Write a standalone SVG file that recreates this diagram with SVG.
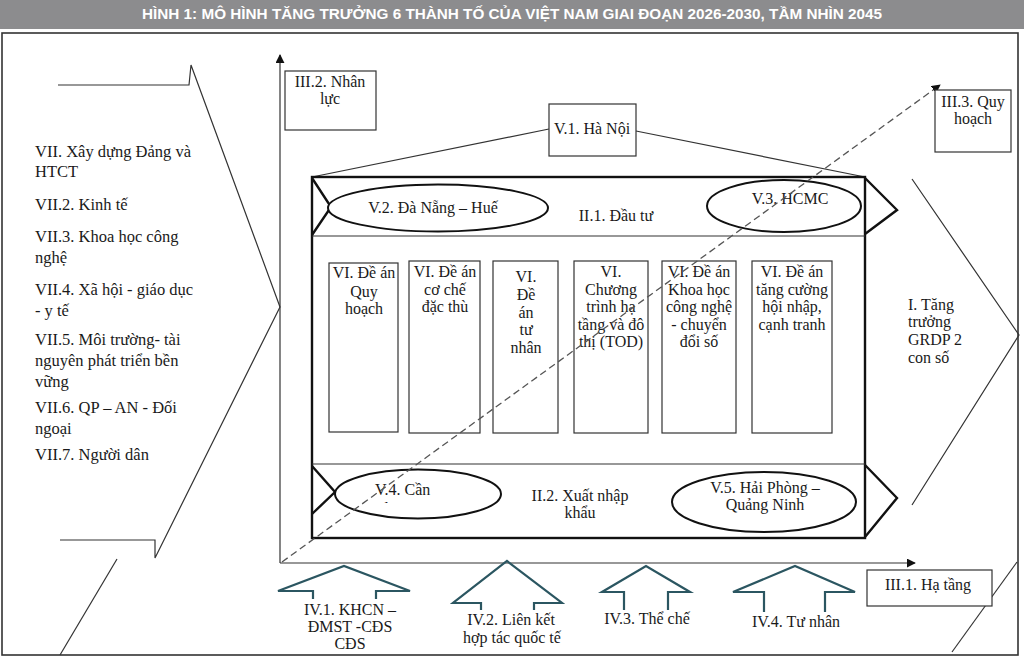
<svg xmlns="http://www.w3.org/2000/svg" width="1024" height="658" viewBox="0 0 1024 658">
<style>
.t{font-family:'Liberation Serif','DejaVu Serif',serif;font-size:16px;fill:#1a1a1a}
.tl{font-family:'Liberation Serif','DejaVu Serif',serif;font-size:16.5px;fill:#1a1a1a}
.c{text-anchor:middle}
.thin{fill:none;stroke:#333;stroke-width:1.2}
.box{fill:#fff;stroke:#333;stroke-width:1.2}
.thick{fill:none;stroke:#111;stroke-width:2.4}
.ell{fill:#fff;stroke:#111;stroke-width:2}
.arr{fill:none;stroke:#2b5661;stroke-width:2.2;stroke-linejoin:miter}
.head{font-family:'Liberation Sans Narrow','Liberation Sans',Arial,sans-serif;font-weight:bold;font-size:14px;fill:#fff}
</style>
<defs>
<marker id="ah" viewBox="0 0 10 10" refX="9" refY="5" markerWidth="9" markerHeight="9" markerUnits="userSpaceOnUse" orient="auto">
<path d="M0,0 L10,5 L0,10 z" fill="#111"/>
</marker>
<clipPath id="cl4"><rect x="330" y="470" width="170" height="33"/></clipPath>
</defs>
<rect width="1024" height="658" fill="#fff"/>
<g id="header">
<rect x="0" y="0" width="1024" height="29" fill="#8c8c8e"/>
<text class="head c" x="512" y="19" textLength="740" lengthAdjust="spacingAndGlyphs">HÌNH 1: MÔ HÌNH TĂNG TRƯỞNG 6 THÀNH TỐ CỦA VIỆT NAM GIAI ĐOẠN 2026-2030, TẦM NHÌN 2045</text>
</g>
<rect x="2" y="33" width="1016" height="622" fill="none" stroke="#333" stroke-width="1.6"/>

<g id="chevron-left">
<polyline class="thin" points="58,85 189,85 191,65 280,307 155,558 155,540 60,540"/>
<line class="thin" x1="117" y1="559" x2="60" y2="655"/>
</g>
<g id="chevron-right">
<polyline class="thin" points="912,179 1019,335 912,505"/>
<line class="thin" x1="1017" y1="562" x2="952" y2="652"/>
</g>

<g id="connectors">
<line x1="280" y1="563" x2="280" y2="55" stroke="#333" stroke-width="1.2" marker-end="url(#ah)"/>
<line x1="280" y1="563" x2="915" y2="563" stroke="#333" stroke-width="1.2" marker-end="url(#ah)"/>
<line class="thin" x1="549" y1="129" x2="312" y2="177"/>
<line class="thin" x1="636" y1="131" x2="865" y2="177"/>
</g>

<g id="main-box">
<rect class="thick" x="312" y="177" width="553" height="361" fill="#fff"/>
<line class="thin" x1="312" y1="236" x2="865" y2="236"/>
<line class="thin" x1="312" y1="464" x2="865" y2="464"/>
<polyline class="thick" points="312,178 331,207 312,235" stroke-width="2"/>
<polyline class="thick" points="865,178 897,210 865,234" stroke-width="2"/>
<polyline class="thick" points="312,466 335,492 312,514" stroke-width="2"/>
<polyline class="thick" points="865,465 897,498 865,537" stroke-width="2"/>
<text class="t c" x="616" y="221">II.1. Đầu tư</text>
<text class="t c" x="580" y="501">II.2. Xuất nhập</text>
<text class="t c" x="580" y="518">khẩu</text>
</g>

<g id="V2"><ellipse class="ell" cx="438" cy="208" rx="110" ry="23.5"/><text class="t c" x="433" y="213">V.2. Đà Nẵng – Huế</text></g>
<g id="V3"><ellipse class="ell" cx="784" cy="206" rx="77" ry="26"/><text class="t c" x="790" y="204">V.3. HCMC</text></g>
<g id="V4"><ellipse class="ell" cx="418" cy="494" rx="83" ry="24.5"/><text class="t" x="375" y="495">V.4. Cần</text><text class="t" x="375" y="514" clip-path="url(#cl4)">Thơ</text></g>
<g id="V5"><ellipse class="ell" cx="764" cy="502" rx="92" ry="30"/><text class="t c" x="765" y="493">V.5.  Hải Phòng –</text><text class="t c" x="765" y="510">Quảng Ninh</text></g>

<g id="VI-1"><rect class="box" x="329" y="263" width="69" height="169"/><text class="t c" x="364" y="278">VI. Đề án</text><text class="t c" x="364" y="297">Quy</text><text class="t c" x="364" y="314">hoạch</text></g>
<g id="VI-2"><rect class="box" x="409" y="261" width="71" height="172"/><text class="t c" x="445" y="277">VI. Đề án</text><text class="t c" x="445" y="295">cơ chế</text><text class="t c" x="445" y="312">đặc thù</text></g>
<g id="VI-3"><rect class="box" x="493" y="261" width="65" height="172"/><text class="t c" x="526" y="282">VI.</text><text class="t c" x="526" y="300">Đề</text><text class="t c" x="526" y="318">án</text><text class="t c" x="526" y="335">tư</text><text class="t c" x="526" y="353">nhân</text></g>
<g id="VI-4"><rect class="box" x="574" y="261" width="74" height="172"/><text class="t c" x="611" y="277">VI.</text><text class="t c" x="611" y="295">Chương</text><text class="t c" x="611" y="312">trình hạ</text><text class="t c" x="611" y="330">tầng và đô</text><text class="t c" x="611" y="347">thị (TOD)</text></g>
<g id="VI-5"><rect class="box" x="662" y="261" width="74" height="172"/><text class="t c" x="699" y="277">VI. Đề án</text><text class="t c" x="699" y="295">Khoa học</text><text class="t c" x="699" y="312">công nghệ</text><text class="t c" x="699" y="330">- chuyển</text><text class="t c" x="699" y="347">đổi số</text></g>
<g id="VI-6"><rect class="box" x="752" y="261" width="80" height="172"/><text class="t c" x="792" y="277">VI. Đề án</text><text class="t c" x="792" y="295">tăng cường</text><text class="t c" x="792" y="312">hội nhập,</text><text class="t c" x="792" y="330">cạnh tranh</text></g>

<g id="dashed">
<line x1="282" y1="562" x2="940" y2="85" stroke="#555" stroke-width="1.3" stroke-dasharray="7,4" marker-end="url(#ah)"/>
</g>

<g id="III2"><rect class="box" x="285" y="71" width="91" height="59"/><text class="t c" x="330" y="87">III.2. Nhân</text><text class="t c" x="330" y="104">lực</text></g>
<g id="V1"><rect class="box" x="549" y="104" width="87" height="52"/><text class="t c" x="592" y="134">V.1. Hà Nội</text></g>
<g id="III3"><rect class="box" x="935" y="90" width="76" height="62"/><text class="t c" x="973" y="107">III.3. Quy</text><text class="t c" x="973" y="124">hoạch</text></g>
<g id="III1"><rect class="box" x="867" y="570" width="125" height="36"/><text class="t c" x="928" y="590">III.1. Hạ tầng</text></g>

<g id="I">
<text class="t" x="908" y="310">I. Tăng</text><text class="t" x="908" y="327">trưởng</text><text class="t" x="908" y="345">GRDP 2</text><text class="t" x="908" y="363">con số</text>
</g>

<g id="VII">
<text class="tl" x="35" y="157">VII. Xây dựng Đảng và</text>
<text class="tl" x="35" y="177">HTCT</text>
<text class="tl" x="35" y="210">VII.2. Kinh tế</text>
<text class="tl" x="35" y="242">VII.3. Khoa học công</text>
<text class="tl" x="35" y="263">nghệ</text>
<text class="tl" x="35" y="295">VII.4. Xã hội - giáo dục</text>
<text class="tl" x="35" y="316">- y tế</text>
<text class="tl" x="35" y="345">VII.5. Môi trường- tài</text>
<text class="tl" x="35" y="366">nguyên phát triển bền</text>
<text class="tl" x="35" y="387">vững</text>
<text class="tl" x="35" y="413">VII.6. QP – AN - Đối</text>
<text class="tl" x="35" y="434">ngoại</text>
<text class="tl" x="35" y="460">VII.7. Người dân</text>
</g>

<g id="IV1"><polyline class="arr" points="313,599 313,591 278,591 344,566 410,591 376,591 376,599"/><text class="t c" x="350" y="615">IV.1. KHCN –</text><text class="t c" x="350" y="632">ĐMST -CĐS</text><text class="t c" x="350" y="649">CĐS</text></g>
<g id="IV2"><polyline class="arr" points="481,610 481,603 453,603 507,561 562,603 534,603 534,610"/><text class="t c" x="511" y="625">IV.2. Liên kết</text><text class="t c" x="512" y="643">hợp tác quốc tế</text></g>
<g id="IV3"><polyline class="arr" points="624,610 624,592 602,592 646,566 690,592 668,592 668,610"/><text class="t c" x="647" y="624">IV.3. Thể chế</text></g>
<g id="IV4"><polyline class="arr" points="764,612 764,592 733,592 795,566 855,592 825,592 825,612"/><text class="t c" x="796" y="627">IV.4. Tư nhân</text></g>
</svg>
